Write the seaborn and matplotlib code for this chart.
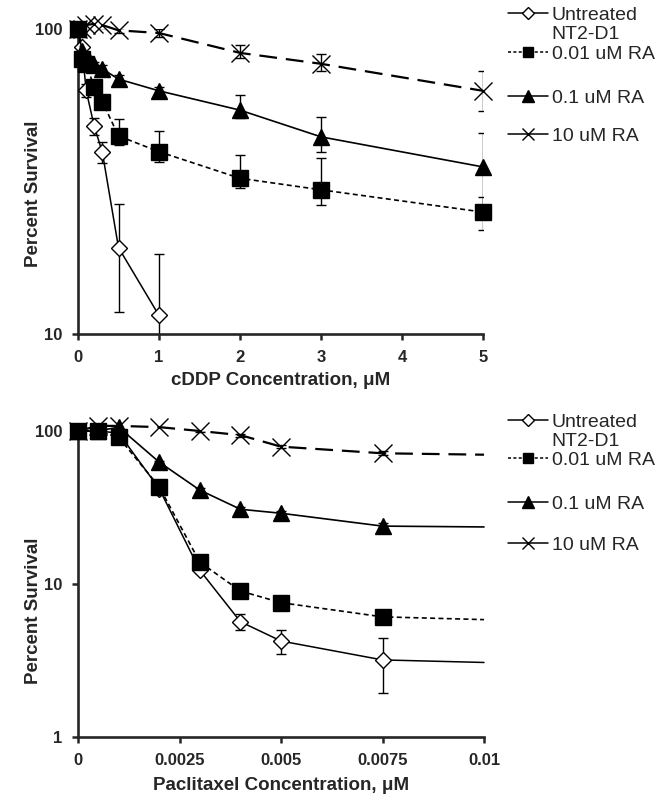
import numpy as np
import pandas as pd
import matplotlib.pyplot as plt
import seaborn as sns
from matplotlib.lines import Line2D
from matplotlib.ticker import FormatStrFormatter, NullLocator

sns.set_style("ticks")
plt.rcParams["font.family"] = ["Liberation Sans", "DejaVu Sans"]
plt.rcParams["font.weight"] = "bold"
plt.rcParams["axes.labelweight"] = "bold"

# ==========================================================
# DATA - cDDP (top panel)
# ==========================================================

cddp_conc = [0, 0.05, 0.1, 0.2, 0.3, 0.5, 1, 2, 3, 5]

cddp_untreated = [100, 87, 63, 48, 39.5, 19.2, 11.5]
cddp_untreated_lo = [0, 2, 3, 3, 3, 7.4, 6.8]
cddp_untreated_hi = [0, 2, 3, 3, 3, 7.5, 6.8]

cddp_ra001 = [100, 80, 77, 64.5, 57.8, 44.6, 39.6, 32.4, 29.7, 25.1]
cddp_ra001_lo = [0, 2, 2, 2, 2, 3, 3, 2.3, 3.2, 3.2]
cddp_ra001_hi = [0, 2, 2, 2, 2, 6, 6.8, 6.2, 8.1, 3]

cddp_ra01 = [100, 85, 80, 76, 74, 68.5, 62.7, 54.2, 44.3, 35.3]
cddp_ra01_lo = [0, 2, 2, 2, 2, 2, 2, 3.2, 4.8, 10]
cddp_ra01_hi = [0, 2, 2, 2, 2, 2, 2, 6.5, 7.2, 10.2]

cddp_ra10 = [100, 100, 103, 104, 103, 99, 97, 83.5, 76.9, 62.7]
cddp_ra10_lo = [0, 2, 2, 2, 2, 2, 3, 3.2, 4, 8.8]
cddp_ra10_hi = [0, 2, 2, 2, 2, 2, 3, 4.9, 5.7, 10.2]

# ==========================================================
# DATA - Paclitaxel (bottom panel)
# last point (0.01) has no marker, only the line
# ==========================================================

pac_conc = [0, 0.0005, 0.001, 0.002, 0.003, 0.004, 0.005, 0.0075, 0.01]

pac_untreated = [100, 100, 97, 42, 12.3, 5.67, 4.24, 3.19, 3.07]
pac_untreated_lo = [0, 0, 2, 1, 0.5, 0.67, 0.75, 1.26]
pac_untreated_hi = [0, 0, 2, 1, 0.5, 0.69, 0.76, 1.27]

pac_ra001 = [100, 100, 91, 43.2, 13.9, 9.0, 7.55, 6.1, 5.85]
pac_ra001_lo = [0, 0, 2, 1, 0.5, 0.3, 0.5, 0.3]
pac_ra001_hi = [0, 0, 2, 1, 0.5, 0.3, 0.5, 0.3]

pac_ra01 = [100, 100, 106, 62.6, 41.1, 30.8, 29.0, 23.9, 23.6]
pac_ra01_lo = [0, 0, 2, 1, 1, 1, 1, 1]
pac_ra01_hi = [0, 0, 2, 1, 1, 1, 1, 1]

pac_ra10 = [100, 108, 108, 106, 100, 94, 79, 71.5, 70]
pac_ra10_lo = [0, 2, 2, 2, 2, 2, 2, 2]
pac_ra10_hi = [0, 2, 2, 2, 2, 2, 2, 2]

series_labels = ["Untreated\nNT2-D1", "0.01 uM RA", "0.1 uM RA", "10 uM RA"]

# ==========================================================
# STYLES
# ==========================================================

styles = [
    dict(linestyle="-", linewidth=1.1, marker="D", markersize=8.5,
         markerfacecolor="white", markeredgecolor="black", markeredgewidth=1.0),
    dict(linestyle=(0, (3, 2)), linewidth=1.2, marker="s", markersize=11.5,
         markerfacecolor="black", markeredgecolor="black", markeredgewidth=1.0),
    dict(linestyle="-", linewidth=1.2, marker="^", markersize=12,
         markerfacecolor="black", markeredgecolor="black", markeredgewidth=1.0),
    dict(linestyle=(0, (8, 4)), linewidth=1.6, marker="x", markersize=13,
         markerfacecolor="black", markeredgecolor="black", markeredgewidth=1.0),
]

legend_ms = [6.5, 7.5, 8, 9]
legend_ls = ["-", (0, (2, 1.5)), "-", "-"]


def draw_series(ax, x, y, lo, hi, style, z):
    df = pd.DataFrame({"x": x, "y": y})
    n = len(lo)
    sns.lineplot(
        data=df, x="x", y="y", ax=ax, color="black",
        errorbar=None, legend=False, clip_on=False,
        markevery=list(range(n)), zorder=z, **style
    )
    ax.errorbar(
        x[:n], y[:n], yerr=[lo, hi], fmt="none", ecolor="black",
        elinewidth=1.0, capsize=3.5, capthick=1.0, zorder=2
    )


def style_axis(ax):
    ax.set_yscale("log")
    ax.yaxis.set_minor_locator(NullLocator())
    ax.yaxis.set_major_formatter(FormatStrFormatter("%g"))
    ax.xaxis.set_major_formatter(FormatStrFormatter("%g"))
    sns.despine(ax=ax)
    for side in ["left", "bottom"]:
        ax.spines[side].set_linewidth(1.9)
    ax.tick_params(direction="out", length=4.3, width=1.8, pad=7,
                   labelsize=12)


def add_legend(fig, x0, y_top, idx, spacing):
    handles = []
    labels = []
    for i in idx:
        if i is None:
            handles.append(Line2D([], [], linestyle="none"))
            labels.append("NT2-D1")
            continue
        st = styles[i]
        handles.append(Line2D(
            [], [], color="black", linestyle=legend_ls[i], linewidth=1.1,
            marker=st["marker"], markersize=legend_ms[i],
            markerfacecolor=st["markerfacecolor"],
            markeredgecolor="black", markeredgewidth=1.0
        ))
        labels.append(series_labels[i].split("\n")[0])
    fig.legend(
        handles, labels, loc="upper left", bbox_to_anchor=(x0, y_top),
        frameon=False, borderpad=0, borderaxespad=0, handlelength=2.05,
        handletextpad=0.2, labelspacing=spacing,
        prop={"weight": "normal", "size": 14}
    )


# ==========================================================
# FIGURE
# ==========================================================

fig = plt.figure(figsize=(6.64, 8.02), dpi=100)

ax1 = fig.add_axes([78 / 664, 1 - 334 / 802, 405 / 664, 305 / 802])
ax2 = fig.add_axes([78 / 664, 1 - 737 / 802, 406 / 664, 306 / 802])

# ==========================================================
# TOP PANEL - cDDP
# ==========================================================

draw_series(ax1, cddp_conc[:len(cddp_untreated)], cddp_untreated,
            cddp_untreated_lo, cddp_untreated_hi, styles[0], 3)
draw_series(ax1, cddp_conc, cddp_ra001, cddp_ra001_lo, cddp_ra001_hi,
            styles[1], 4)
draw_series(ax1, cddp_conc, cddp_ra01, cddp_ra01_lo, cddp_ra01_hi,
            styles[2], 5)
draw_series(ax1, cddp_conc, cddp_ra10, cddp_ra10_lo, cddp_ra10_hi,
            styles[3], 6)

style_axis(ax1)
ax1.set_xlim(0, 5)
ax1.set_ylim(10, 100)
ax1.set_xticks([0, 1, 2, 3, 4, 5])
ax1.set_yticks([10, 100])

ax1.set_xlabel("cDDP Concentration, \u03bcM", fontsize=13.5, va="center")
ax1.set_ylabel("Percent Survival", fontsize=13.5, va="center")
ax1.xaxis.set_label_coords(0.5, (334 - 381) / 305)
ax1.yaxis.set_label_coords((34 - 78) / 405, (334 - 194) / 305)

# ==========================================================
# BOTTOM PANEL - PACLITAXEL
# ==========================================================

draw_series(ax2, pac_conc, pac_untreated, pac_untreated_lo,
            pac_untreated_hi, styles[0], 3)
draw_series(ax2, pac_conc, pac_ra001, pac_ra001_lo, pac_ra001_hi,
            styles[1], 4)
draw_series(ax2, pac_conc, pac_ra01, pac_ra01_lo, pac_ra01_hi,
            styles[2], 5)
draw_series(ax2, pac_conc, pac_ra10, pac_ra10_lo, pac_ra10_hi,
            styles[3], 6)

style_axis(ax2)
ax2.set_xlim(0, 0.01)
ax2.set_ylim(1, 100)
ax2.set_xticks([0, 0.0025, 0.005, 0.0075, 0.01])
ax2.set_yticks([1, 10, 100])

ax2.set_xlabel("Paclitaxel Concentration, \u03bcM", fontsize=13.5,
               va="center")
ax2.set_ylabel("Percent Survival", fontsize=13.5, va="center")
ax2.xaxis.set_label_coords(0.5, (737 - 786) / 306)
ax2.yaxis.set_label_coords((34 - 78) / 406, (737 - 611) / 306)

# ==========================================================
# LEGENDS
# ==========================================================

add_legend(fig, 508 / 664, 1 - 6 / 802, [0, None, 1], 0.1)
add_legend(fig, 508 / 664, 1 - 89 / 802, [2, 3], 1.05)
add_legend(fig, 508 / 664, 1 - 413 / 802, [0, None, 1], 0.08)
add_legend(fig, 508 / 664, 1 - 495 / 802, [2, 3], 1.2)

fig.savefig("out.png", dpi=100)
